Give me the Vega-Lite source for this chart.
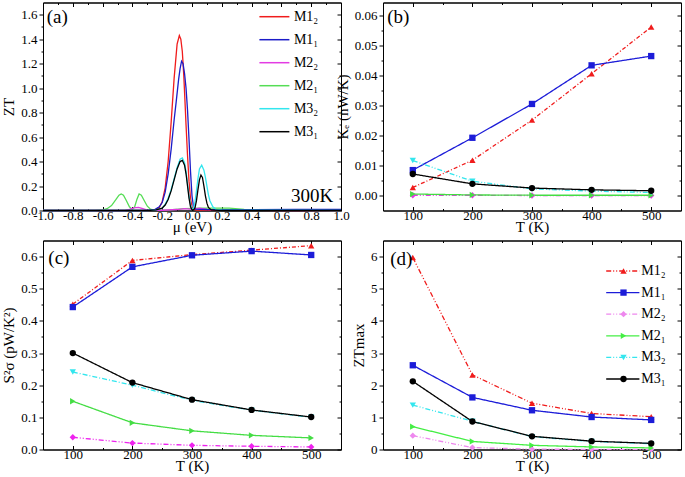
{
  "$schema": "https://vega.github.io/schema/vega-lite/v6.json",
  "background": "white",
  "padding": {"left": 1, "top": 1.5, "right": 2, "bottom": 0},
  "columns": 2,
  "spacing": {"row": 30, "column": 42},
  "bounds": "flush",
  "resolve": {"scale": {"color": "independent", "shape": "independent", "strokeDash": "independent"}, "legend": {"color": "independent", "shape": "independent", "strokeDash": "independent"}},
  "datasets": {
    "a": [
      {"s":"M2₁","x":-1,"y":0},{"s":"M2₁","x":-0.65,"y":0},{"s":"M2₁","x":-0.6,"y":0.005},{"s":"M2₁","x":-0.57,"y":0.015},{"s":"M2₁","x":-0.54,"y":0.04},{"s":"M2₁","x":-0.51,"y":0.09},{"s":"M2₁","x":-0.49,"y":0.125},{"s":"M2₁","x":-0.475,"y":0.135},{"s":"M2₁","x":-0.46,"y":0.125},{"s":"M2₁","x":-0.44,"y":0.08},{"s":"M2₁","x":-0.42,"y":0.03},{"s":"M2₁","x":-0.4,"y":0.008},{"s":"M2₁","x":-0.385,"y":0.03},{"s":"M2₁","x":-0.37,"y":0.09},{"s":"M2₁","x":-0.355,"y":0.135},{"s":"M2₁","x":-0.34,"y":0.125},{"s":"M2₁","x":-0.32,"y":0.08},{"s":"M2₁","x":-0.3,"y":0.035},{"s":"M2₁","x":-0.28,"y":0.012},{"s":"M2₁","x":-0.25,"y":0.003},{"s":"M2₁","x":-0.15,"y":0.005},{"s":"M2₁","x":-0.05,"y":0.015},{"s":"M2₁","x":0.05,"y":0.02},{"s":"M2₁","x":0.15,"y":0.02},{"s":"M2₁","x":0.25,"y":0.02},{"s":"M2₁","x":0.35,"y":0.01},{"s":"M2₁","x":0.5,"y":0.003},{"s":"M2₁","x":1,"y":0},
      {"s":"M2₂","x":-1,"y":0},{"s":"M2₂","x":-0.45,"y":0},{"s":"M2₂","x":-0.42,"y":0.01},{"s":"M2₂","x":-0.39,"y":0.022},{"s":"M2₂","x":-0.36,"y":0.025},{"s":"M2₂","x":-0.33,"y":0.015},{"s":"M2₂","x":-0.3,"y":0.003},{"s":"M2₂","x":-0.2,"y":0.002},{"s":"M2₂","x":-0.1,"y":0.008},{"s":"M2₂","x":-0.05,"y":0.015},{"s":"M2₂","x":0,"y":0.01},{"s":"M2₂","x":0.05,"y":0.02},{"s":"M2₂","x":0.1,"y":0.01},{"s":"M2₂","x":0.2,"y":0.003},{"s":"M2₂","x":1,"y":0},
      {"s":"M1₂","x":-1,"y":0},{"s":"M1₂","x":-0.3,"y":0},{"s":"M1₂","x":-0.25,"y":0.003},{"s":"M1₂","x":-0.22,"y":0.023},{"s":"M1₂","x":-0.2,"y":0.072},{"s":"M1₂","x":-0.18,"y":0.185},{"s":"M1₂","x":-0.16,"y":0.4},{"s":"M1₂","x":-0.14,"y":0.72},{"s":"M1₂","x":-0.12,"y":1.08},{"s":"M1₂","x":-0.1,"y":1.36},{"s":"M1₂","x":-0.085,"y":1.43},{"s":"M1₂","x":-0.075,"y":1.4},{"s":"M1₂","x":-0.065,"y":1.3},{"s":"M1₂","x":-0.055,"y":1.1},{"s":"M1₂","x":-0.047,"y":0.89},{"s":"M1₂","x":-0.04,"y":0.7},{"s":"M1₂","x":-0.03,"y":0.45},{"s":"M1₂","x":-0.02,"y":0.24},{"s":"M1₂","x":-0.01,"y":0.1},{"s":"M1₂","x":0,"y":0.03},{"s":"M1₂","x":0.01,"y":0.01},{"s":"M1₂","x":0.03,"y":0.003},{"s":"M1₂","x":0.2,"y":0.002},{"s":"M1₂","x":1,"y":0},
      {"s":"M1₁","x":-1,"y":0},{"s":"M1₁","x":-0.3,"y":0},{"s":"M1₁","x":-0.25,"y":0.008},{"s":"M1₁","x":-0.22,"y":0.03},{"s":"M1₁","x":-0.2,"y":0.065},{"s":"M1₁","x":-0.18,"y":0.15},{"s":"M1₁","x":-0.16,"y":0.3},{"s":"M1₁","x":-0.14,"y":0.5},{"s":"M1₁","x":-0.12,"y":0.74},{"s":"M1₁","x":-0.106,"y":0.89},{"s":"M1₁","x":-0.09,"y":1.07},{"s":"M1₁","x":-0.08,"y":1.16},{"s":"M1₁","x":-0.07,"y":1.22},{"s":"M1₁","x":-0.06,"y":1.2},{"s":"M1₁","x":-0.05,"y":1.12},{"s":"M1₁","x":-0.04,"y":1.0},{"s":"M1₁","x":-0.03,"y":0.82},{"s":"M1₁","x":-0.02,"y":0.58},{"s":"M1₁","x":-0.01,"y":0.32},{"s":"M1₁","x":0,"y":0.12},{"s":"M1₁","x":0.01,"y":0.03},{"s":"M1₁","x":0.02,"y":0.012},{"s":"M1₁","x":0.1,"y":0.008},{"s":"M1₁","x":0.4,"y":0.006},{"s":"M1₁","x":0.7,"y":0.009},{"s":"M1₁","x":1,"y":0.01},
      {"s":"M3₂","x":-1,"y":0},{"s":"M3₂","x":-0.3,"y":0},{"s":"M3₂","x":-0.24,"y":0.005},{"s":"M3₂","x":-0.2,"y":0.02},{"s":"M3₂","x":-0.18,"y":0.05},{"s":"M3₂","x":-0.16,"y":0.1},{"s":"M3₂","x":-0.14,"y":0.17},{"s":"M3₂","x":-0.12,"y":0.26},{"s":"M3₂","x":-0.1,"y":0.35},{"s":"M3₂","x":-0.08,"y":0.42},{"s":"M3₂","x":-0.065,"y":0.43},{"s":"M3₂","x":-0.05,"y":0.39},{"s":"M3₂","x":-0.04,"y":0.32},{"s":"M3₂","x":-0.03,"y":0.22},{"s":"M3₂","x":-0.02,"y":0.12},{"s":"M3₂","x":-0.01,"y":0.05},{"s":"M3₂","x":0,"y":0.01},{"s":"M3₂","x":0.01,"y":0.02},{"s":"M3₂","x":0.02,"y":0.07},{"s":"M3₂","x":0.03,"y":0.16},{"s":"M3₂","x":0.04,"y":0.26},{"s":"M3₂","x":0.05,"y":0.34},{"s":"M3₂","x":0.065,"y":0.37},{"s":"M3₂","x":0.08,"y":0.33},{"s":"M3₂","x":0.09,"y":0.27},{"s":"M3₂","x":0.1,"y":0.2},{"s":"M3₂","x":0.11,"y":0.13},{"s":"M3₂","x":0.12,"y":0.08},{"s":"M3₂","x":0.14,"y":0.03},{"s":"M3₂","x":0.16,"y":0.01},{"s":"M3₂","x":0.2,"y":0.005},{"s":"M3₂","x":1,"y":0},
      {"s":"M3₁","x":-1,"y":0},{"s":"M3₁","x":-0.3,"y":0},{"s":"M3₁","x":-0.24,"y":0.005},{"s":"M3₁","x":-0.2,"y":0.02},{"s":"M3₁","x":-0.18,"y":0.045},{"s":"M3₁","x":-0.16,"y":0.09},{"s":"M3₁","x":-0.14,"y":0.16},{"s":"M3₁","x":-0.12,"y":0.25},{"s":"M3₁","x":-0.1,"y":0.34},{"s":"M3₁","x":-0.08,"y":0.4},{"s":"M3₁","x":-0.065,"y":0.41},{"s":"M3₁","x":-0.05,"y":0.37},{"s":"M3₁","x":-0.04,"y":0.3},{"s":"M3₁","x":-0.03,"y":0.2},{"s":"M3₁","x":-0.02,"y":0.1},{"s":"M3₁","x":-0.01,"y":0.03},{"s":"M3₁","x":0,"y":0.005},{"s":"M3₁","x":0.01,"y":0.005},{"s":"M3₁","x":0.02,"y":0.02},{"s":"M3₁","x":0.03,"y":0.08},{"s":"M3₁","x":0.04,"y":0.17},{"s":"M3₁","x":0.05,"y":0.25},{"s":"M3₁","x":0.06,"y":0.29},{"s":"M3₁","x":0.07,"y":0.27},{"s":"M3₁","x":0.08,"y":0.2},{"s":"M3₁","x":0.09,"y":0.12},{"s":"M3₁","x":0.1,"y":0.06},{"s":"M3₁","x":0.11,"y":0.025},{"s":"M3₁","x":0.13,"y":0.005},{"s":"M3₁","x":0.2,"y":0},{"s":"M3₁","x":1,"y":0}
    ],
    "t": [
      {"s":"M1₂","T":100,"ke":0.0027,"pf":0.452,"ztm":5.97},
      {"s":"M1₁","T":100,"ke":0.0085,"pf":0.443,"ztm":2.62},
      {"s":"M2₂","T":100,"ke":0.0001,"pf":0.038,"ztm":0.43},
      {"s":"M2₁","T":100,"ke":0.0005,"pf":0.150,"ztm":0.71},
      {"s":"M3₂","T":100,"ke":0.0117,"pf":0.241,"ztm":1.38},
      {"s":"M3₁","T":100,"ke":0.0072,"pf":0.300,"ztm":2.12},
      {"s":"M1₂","T":200,"ke":0.0118,"pf":0.588,"ztm":2.32},
      {"s":"M1₁","T":200,"ke":0.0193,"pf":0.568,"ztm":1.62},
      {"s":"M2₂","T":200,"ke":0.0001,"pf":0.020,"ztm":0.06},
      {"s":"M2₁","T":200,"ke":0.0002,"pf":0.083,"ztm":0.25},
      {"s":"M3₂","T":200,"ke":0.0048,"pf":0.200,"ztm":0.88},
      {"s":"M3₁","T":200,"ke":0.0039,"pf":0.208,"ztm":0.87},
      {"s":"M1₂","T":300,"ke":0.0252,"pf":0.606,"ztm":1.44},
      {"s":"M1₁","T":300,"ke":0.0306,"pf":0.604,"ztm":1.22},
      {"s":"M2₂","T":300,"ke":0.0000,"pf":0.013,"ztm":0.01},
      {"s":"M2₁","T":300,"ke":0.0001,"pf":0.058,"ztm":0.13},
      {"s":"M3₂","T":300,"ke":0.0022,"pf":0.153,"ztm":0.40},
      {"s":"M3₁","T":300,"ke":0.0025,"pf":0.155,"ztm":0.41},
      {"s":"M1₂","T":400,"ke":0.0407,"pf":0.620,"ztm":1.12},
      {"s":"M1₁","T":400,"ke":0.0435,"pf":0.617,"ztm":1.01},
      {"s":"M2₂","T":400,"ke":0.0000,"pf":0.010,"ztm":0.005},
      {"s":"M2₁","T":400,"ke":0.0001,"pf":0.044,"ztm":0.08},
      {"s":"M3₂","T":400,"ke":0.0015,"pf":0.122,"ztm":0.25},
      {"s":"M3₁","T":400,"ke":0.0019,"pf":0.123,"ztm":0.26},
      {"s":"M1₂","T":500,"ke":0.0563,"pf":0.634,"ztm":1.02},
      {"s":"M1₁","T":500,"ke":0.0466,"pf":0.605,"ztm":0.92},
      {"s":"M2₂","T":500,"ke":0.0000,"pf":0.008,"ztm":0.003},
      {"s":"M2₁","T":500,"ke":0.0001,"pf":0.036,"ztm":0.05},
      {"s":"M3₂","T":500,"ke":0.0010,"pf":0.100,"ztm":0.18},
      {"s":"M3₁","T":500,"ke":0.0016,"pf":0.101,"ztm":0.19}
    ]
  },
  "concat": [
    {
      "width": 298, "height": 208,
      "data": {"name": "a"},
      "layer": [
        {"mark": {"type": "line", "strokeWidth": 1.3},
         "encoding": {
           "x": {"field": "x", "type": "quantitative", "scale": {"domain": [-1, 1], "nice": false, "zero": false},
                 "axis": {"title": "μ (eV)", "values": [-1,-0.8,-0.6,-0.4,-0.2,0,0.2,0.4,0.6,0.8,1], "labelExpr": "replace(format(datum.value,'.1f'),'−','-')", "tickSize": -4, "labelPadding": 3, "titlePadding": -3}},
           "y": {"field": "y", "type": "quantitative", "scale": {"domain": [0, 1.7], "nice": false},
                 "axis": {"title": "ZT", "values": [0,0.2,0.4,0.6,0.8,1,1.2,1.4,1.6], "format": ".1f", "tickSize": 4}},
           "color": {"field": "s", "type": "nominal",
                     "scale": {"domain": ["M1₂","M1₁","M2₂","M2₁","M3₂","M3₁"], "range": ["#f01c1c","#1c1cc8","#e33be3","#55dd55","#33e6ee","#000000"]},
                     "legend": {"title": null, "orient": "none", "legendX": 224.4, "legendY": 7.2, "symbolType": "M-3.75,0H3.75", "symbolSize": 64, "symbolStrokeWidth": 1.5, "labelFontSize": 14, "labelOffset": 12.5, "rowPadding": 9}}
         }},
        {"mark": {"type": "point", "opacity": 0},
         "encoding": {
           "x": {"field": "x", "type": "quantitative", "axis": {"orient": "top", "labels": false, "title": null, "tickSize": -4, "values": [-1,-0.8,-0.6,-0.4,-0.2,0,0.2,0.4,0.6,0.8,1]}},
           "y": {"field": "y", "type": "quantitative", "axis": {"orient": "right", "labels": false, "title": null, "tickSize": -4, "values": [0,0.2,0.4,0.6,0.8,1,1.2,1.4,1.6]}}
         }},
        {"mark": {"type": "point", "opacity": 0},
         "encoding": {
           "x": {"field": "x", "type": "quantitative", "axis": {"orient": "bottom", "labels": false, "title": null, "domain": false, "tickSize": -2, "values": [-0.9,-0.7,-0.5,-0.3,-0.1,0.1,0.3,0.5,0.7,0.9]}},
           "y": {"field": "y", "type": "quantitative", "axis": {"orient": "left", "labels": false, "title": null, "domain": false, "tickSize": 2, "values": [0.1,0.3,0.5,0.7,0.9,1.1,1.3,1.5]}}
         }},
        {"mark": {"type": "point", "opacity": 0},
         "encoding": {
           "x": {"field": "x", "type": "quantitative", "axis": {"orient": "top", "labels": false, "title": null, "domain": false, "tickSize": -2, "values": [-0.9,-0.7,-0.5,-0.3,-0.1,0.1,0.3,0.5,0.7,0.9]}},
           "y": {"field": "y", "type": "quantitative", "axis": {"orient": "right", "labels": false, "title": null, "domain": false, "tickSize": -2, "values": [0.1,0.3,0.5,0.7,0.9,1.1,1.3,1.5]}}
         }},
        {"data": {"values": [{}]},
         "mark": {"type": "text", "fontSize": 19, "fontWeight": "normal", "align": "left", "baseline": "middle", "fill": "black"},
         "encoding": {"x": {"datum": -0.975, "type": "quantitative", "axis": null}, "y": {"datum": 1.58, "type": "quantitative", "axis": null}, "text": {"value": "(a)"}}},
        {"data": {"values": [{}]},
         "mark": {"type": "text", "fontSize": 19, "fontWeight": "normal", "align": "left", "baseline": "middle", "fill": "black"},
         "encoding": {"x": {"datum": 0.665, "type": "quantitative", "axis": null}, "y": {"datum": 0.115, "type": "quantitative", "axis": null}, "text": {"value": "300K"}}}
      ],
      "resolve": {"axis": {"x": "independent", "y": "independent"}}
    },
    {
      "width": 298, "height": 208,
      "data": {"name": "t"},
      "layer": [
        {"encoding": {
           "x": {"field": "T", "type": "quantitative", "scale": {"domain": [50, 550], "nice": false, "zero": false},
                 "axis": {"title": "T (K)", "values": [100,200,300,400,500], "tickSize": -4, "labelPadding": 3, "titlePadding": -3}},
           "y": {"field": "ke", "type": "quantitative", "scale": {"domain": [-0.005, 0.0645], "nice": false, "zero": false},
                 "axis": {"title": "Kₑ (nW/K)", "values": [0,0.01,0.02,0.03,0.04,0.05,0.06], "format": ".2f", "tickSize": 4}}
         },
         "layer": [
          {"mark": {"type": "line", "strokeWidth": 1.3},
           "encoding": {
             "color": {"field": "s", "type": "nominal", "legend": null,
                       "scale": {"domain": ["M1₂","M1₁","M2₂","M2₁","M3₂","M3₁"], "range": ["#f01c1c","#1c1cd8","#e33be3","#44dd44","#33e6ee","#000000"]}},
             "strokeDash": {"field": "s", "type": "nominal", "legend": null,
                       "scale": {"domain": ["M1₂","M1₁","M2₂","M2₁","M3₂","M3₁"], "range": [[4,2,1,2],[1,0],[5,2,1,2,1,2],[1,0],[5,2,1,2,1,2],[1,0]]}}
           }},
          {"mark": {"type": "point", "filled": true, "size": 40, "opacity": 1},
           "encoding": {
             "color": {"field": "s", "type": "nominal", "legend": null},
             "shape": {"field": "s", "type": "nominal", "legend": null,
                       "scale": {"domain": ["M1₂","M1₁","M2₂","M2₁","M3₂","M3₁"], "range": ["triangle-up","square","diamond","triangle-right","triangle-down","circle"]}}
           }}
        ]},
        {"mark": {"type": "point", "opacity": 0},
         "encoding": {
           "x": {"field": "T", "type": "quantitative", "axis": {"orient": "top", "labels": false, "title": null, "tickSize": -4, "values": [100,200,300,400,500]}},
           "y": {"field": "ke", "type": "quantitative", "axis": {"orient": "right", "labels": false, "title": null, "tickSize": -4, "values": [0,0.01,0.02,0.03,0.04,0.05,0.06]}}
         }},
        {"mark": {"type": "point", "opacity": 0},
         "encoding": {
           "x": {"field": "T", "type": "quantitative", "axis": {"orient": "bottom", "labels": false, "title": null, "domain": false, "tickSize": -2, "values": [150,250,350,450]}},
           "y": {"field": "ke", "type": "quantitative", "axis": {"orient": "left", "labels": false, "title": null, "domain": false, "tickSize": 2, "values": [0.005,0.015,0.025,0.035,0.045,0.055]}}
         }},
        {"mark": {"type": "point", "opacity": 0},
         "encoding": {
           "x": {"field": "T", "type": "quantitative", "axis": {"orient": "top", "labels": false, "title": null, "domain": false, "tickSize": -2, "values": [150,250,350,450]}},
           "y": {"field": "ke", "type": "quantitative", "axis": {"orient": "right", "labels": false, "title": null, "domain": false, "tickSize": -2, "values": [0.005,0.015,0.025,0.035,0.045,0.055]}}
         }},
        {"data": {"values": [{}]},
         "mark": {"type": "text", "fontSize": 19, "fontWeight": "normal", "align": "left", "baseline": "middle", "fill": "black"},
         "encoding": {"x": {"datum": 57, "type": "quantitative", "axis": null}, "y": {"datum": 0.0595, "type": "quantitative", "axis": null}, "text": {"value": "(b)"}}}
      ],
      "resolve": {"axis": {"x": "independent", "y": "independent"}}
    },
    {
      "width": 298, "height": 209,
      "data": {"name": "t"},
      "layer": [
        {"encoding": {
           "x": {"field": "T", "type": "quantitative", "scale": {"domain": [50, 550], "nice": false, "zero": false},
                 "axis": {"title": "T (K)", "values": [100,200,300,400,500], "tickSize": -4, "labelPadding": 3, "titlePadding": -3}},
           "y": {"field": "pf", "type": "quantitative", "scale": {"domain": [0, 0.65], "nice": false},
                 "axis": {"title": "S²σ (pW/K²)", "values": [0,0.1,0.2,0.3,0.4,0.5,0.6], "format": ".1f", "tickSize": 4}}
         },
         "layer": [
          {"mark": {"type": "line", "strokeWidth": 1.3},
           "encoding": {
             "color": {"field": "s", "type": "nominal", "legend": null,
                       "scale": {"domain": ["M1₂","M1₁","M2₂","M2₁","M3₂","M3₁"], "range": ["#f01c1c","#1c1cd8","#ee22ee","#44dd44","#33e6ee","#000000"]}},
             "strokeDash": {"field": "s", "type": "nominal", "legend": null,
                       "scale": {"domain": ["M1₂","M1₁","M2₂","M2₁","M3₂","M3₁"], "range": [[4,2,1,2],[1,0],[5,2,1,2,1,2],[1,0],[5,2,1,2],[1,0]]}}
           }},
          {"mark": {"type": "point", "filled": true, "size": 40, "opacity": 1},
           "encoding": {
             "color": {"field": "s", "type": "nominal", "legend": null},
             "shape": {"field": "s", "type": "nominal", "legend": null,
                       "scale": {"domain": ["M1₂","M1₁","M2₂","M2₁","M3₂","M3₁"], "range": ["triangle-up","square","diamond","triangle-right","triangle-down","circle"]}}
           }}
        ]},
        {"mark": {"type": "point", "opacity": 0},
         "encoding": {
           "x": {"field": "T", "type": "quantitative", "axis": {"orient": "top", "labels": false, "title": null, "tickSize": -4, "values": [100,200,300,400,500]}},
           "y": {"field": "pf", "type": "quantitative", "axis": {"orient": "right", "labels": false, "title": null, "tickSize": -4, "values": [0,0.1,0.2,0.3,0.4,0.5,0.6]}}
         }},
        {"mark": {"type": "point", "opacity": 0},
         "encoding": {
           "x": {"field": "T", "type": "quantitative", "axis": {"orient": "bottom", "labels": false, "title": null, "domain": false, "tickSize": -2, "values": [150,250,350,450]}},
           "y": {"field": "pf", "type": "quantitative", "axis": {"orient": "left", "labels": false, "title": null, "domain": false, "tickSize": 2, "values": [0.05,0.15,0.25,0.35,0.45,0.55]}}
         }},
        {"mark": {"type": "point", "opacity": 0},
         "encoding": {
           "x": {"field": "T", "type": "quantitative", "axis": {"orient": "top", "labels": false, "title": null, "domain": false, "tickSize": -2, "values": [150,250,350,450]}},
           "y": {"field": "pf", "type": "quantitative", "axis": {"orient": "right", "labels": false, "title": null, "domain": false, "tickSize": -2, "values": [0.05,0.15,0.25,0.35,0.45,0.55]}}
         }},
        {"data": {"values": [{}]},
         "mark": {"type": "text", "fontSize": 19, "fontWeight": "normal", "align": "left", "baseline": "middle", "fill": "black"},
         "encoding": {"x": {"datum": 59, "type": "quantitative", "axis": null}, "y": {"datum": 0.597, "type": "quantitative", "axis": null}, "text": {"value": "(c)"}}}
      ],
      "resolve": {"axis": {"x": "independent", "y": "independent"}}
    },
    {
      "width": 298, "height": 209,
      "data": {"name": "t"},
      "layer": [
        {"encoding": {
           "x": {"field": "T", "type": "quantitative", "scale": {"domain": [50, 550], "nice": false, "zero": false},
                 "axis": {"title": "T (K)", "values": [100,200,300,400,500], "tickSize": -4, "labelPadding": 3, "titlePadding": -3}},
           "y": {"field": "ztm", "type": "quantitative", "scale": {"domain": [0, 6.5], "nice": false},
                 "axis": {"title": "ZTmax", "values": [0,1,2,3,4,5,6], "format": "d", "tickSize": 4}}
         },
         "layer": [
          {"mark": {"type": "line", "strokeWidth": 1.3},
           "encoding": {
             "color": {"field": "s", "type": "nominal",
                       "scale": {"domain": ["M1₂","M1₁","M2₂","M2₁","M3₂","M3₁"], "range": ["#f01c1c","#1c1cd8","#ee88ee","#44ee44","#33e6ee","#000000"]},
                       "legend": {"title": null, "orient": "none", "legendX": 232.8, "legendY": 23.5, "symbolType": "M-4.15,0H4.15", "symbolSize": 64, "symbolStrokeWidth": 1.3, "labelFontSize": 14, "labelOffset": 11.5, "rowPadding": 7.6}},
             "strokeDash": {"field": "s", "type": "nominal",
                       "scale": {"domain": ["M1₂","M1₁","M2₂","M2₁","M3₂","M3₁"], "range": [[5,2,1,2,1,2],[1,0],[5,2,1,2,1,2],[1,0],[5,2,1,2,1,2],[1,0]]},
                       "legend": {"title": null, "orient": "none", "legendX": 232.8, "legendY": 23.5, "symbolType": "M-4.15,0H4.15", "symbolSize": 64, "symbolStrokeWidth": 1.3, "labelFontSize": 14, "labelOffset": 11.5, "rowPadding": 7.6}}
           }},
          {"mark": {"type": "point", "filled": true, "size": 40, "opacity": 1},
           "encoding": {
             "color": {"field": "s", "type": "nominal",
                       "scale": {"domain": ["M1₂","M1₁","M2₂","M2₁","M3₂","M3₁"], "range": ["#f01c1c","#1c1cd8","#ee88ee","#44ee44","#33e6ee","#000000"]},
                       "legend": {"title": null, "orient": "none", "legendX": 233.5, "legendY": 23.5, "symbolSize": 40, "labelOpacity": 0, "labelFontSize": 14, "rowPadding": 7.6}},
             "shape": {"field": "s", "type": "nominal",
                       "scale": {"domain": ["M1₂","M1₁","M2₂","M2₁","M3₂","M3₁"], "range": ["triangle-up","square","diamond","triangle-right","triangle-down","circle"]},
                       "legend": {"title": null, "orient": "none", "legendX": 233.5, "legendY": 23.5, "symbolSize": 40, "labelOpacity": 0, "labelFontSize": 14, "rowPadding": 7.6}}
           }}
        ], "resolve": {"scale": {"color": "independent", "shape": "independent", "strokeDash": "independent"}}},
        {"mark": {"type": "point", "opacity": 0},
         "encoding": {
           "x": {"field": "T", "type": "quantitative", "axis": {"orient": "top", "labels": false, "title": null, "tickSize": -4, "values": [100,200,300,400,500]}},
           "y": {"field": "ztm", "type": "quantitative", "axis": {"orient": "right", "labels": false, "title": null, "tickSize": -4, "values": [0,1,2,3,4,5,6]}}
         }},
        {"mark": {"type": "point", "opacity": 0},
         "encoding": {
           "x": {"field": "T", "type": "quantitative", "axis": {"orient": "bottom", "labels": false, "title": null, "domain": false, "tickSize": -2, "values": [150,250,350,450]}},
           "y": {"field": "ztm", "type": "quantitative", "axis": {"orient": "left", "labels": false, "title": null, "domain": false, "tickSize": 2, "values": [0.5,1.5,2.5,3.5,4.5,5.5]}}
         }},
        {"mark": {"type": "point", "opacity": 0},
         "encoding": {
           "x": {"field": "T", "type": "quantitative", "axis": {"orient": "top", "labels": false, "title": null, "domain": false, "tickSize": -2, "values": [150,250,350,450]}},
           "y": {"field": "ztm", "type": "quantitative", "axis": {"orient": "right", "labels": false, "title": null, "domain": false, "tickSize": -2, "values": [0.5,1.5,2.5,3.5,4.5,5.5]}}
         }},
        {"data": {"values": [{}]},
         "mark": {"type": "text", "fontSize": 19, "fontWeight": "normal", "align": "left", "baseline": "middle", "fill": "black"},
         "encoding": {"x": {"datum": 62, "type": "quantitative", "axis": null}, "y": {"datum": 5.92, "type": "quantitative", "axis": null}, "text": {"value": "(d)"}}}
      ],
      "resolve": {"axis": {"x": "independent", "y": "independent"}}
    }
  ],
  "config": {
    "font": "Liberation Serif",
    "view": {"stroke": "black", "strokeWidth": 1},
    "axis": {"grid": false, "labelFont": "Liberation Serif", "labelFontSize": 13, "labelColor": "black", "titleFont": "Liberation Serif", "titleFontSize": 15, "titleFontWeight": "normal", "titleColor": "black", "domainColor": "black", "tickColor": "black", "labelFlush": false, "labelOverlap": false},
    "legend": {"labelFont": "Liberation Serif", "labelColor": "black"},
    "text": {"font": "Liberation Serif"}
  }
}
